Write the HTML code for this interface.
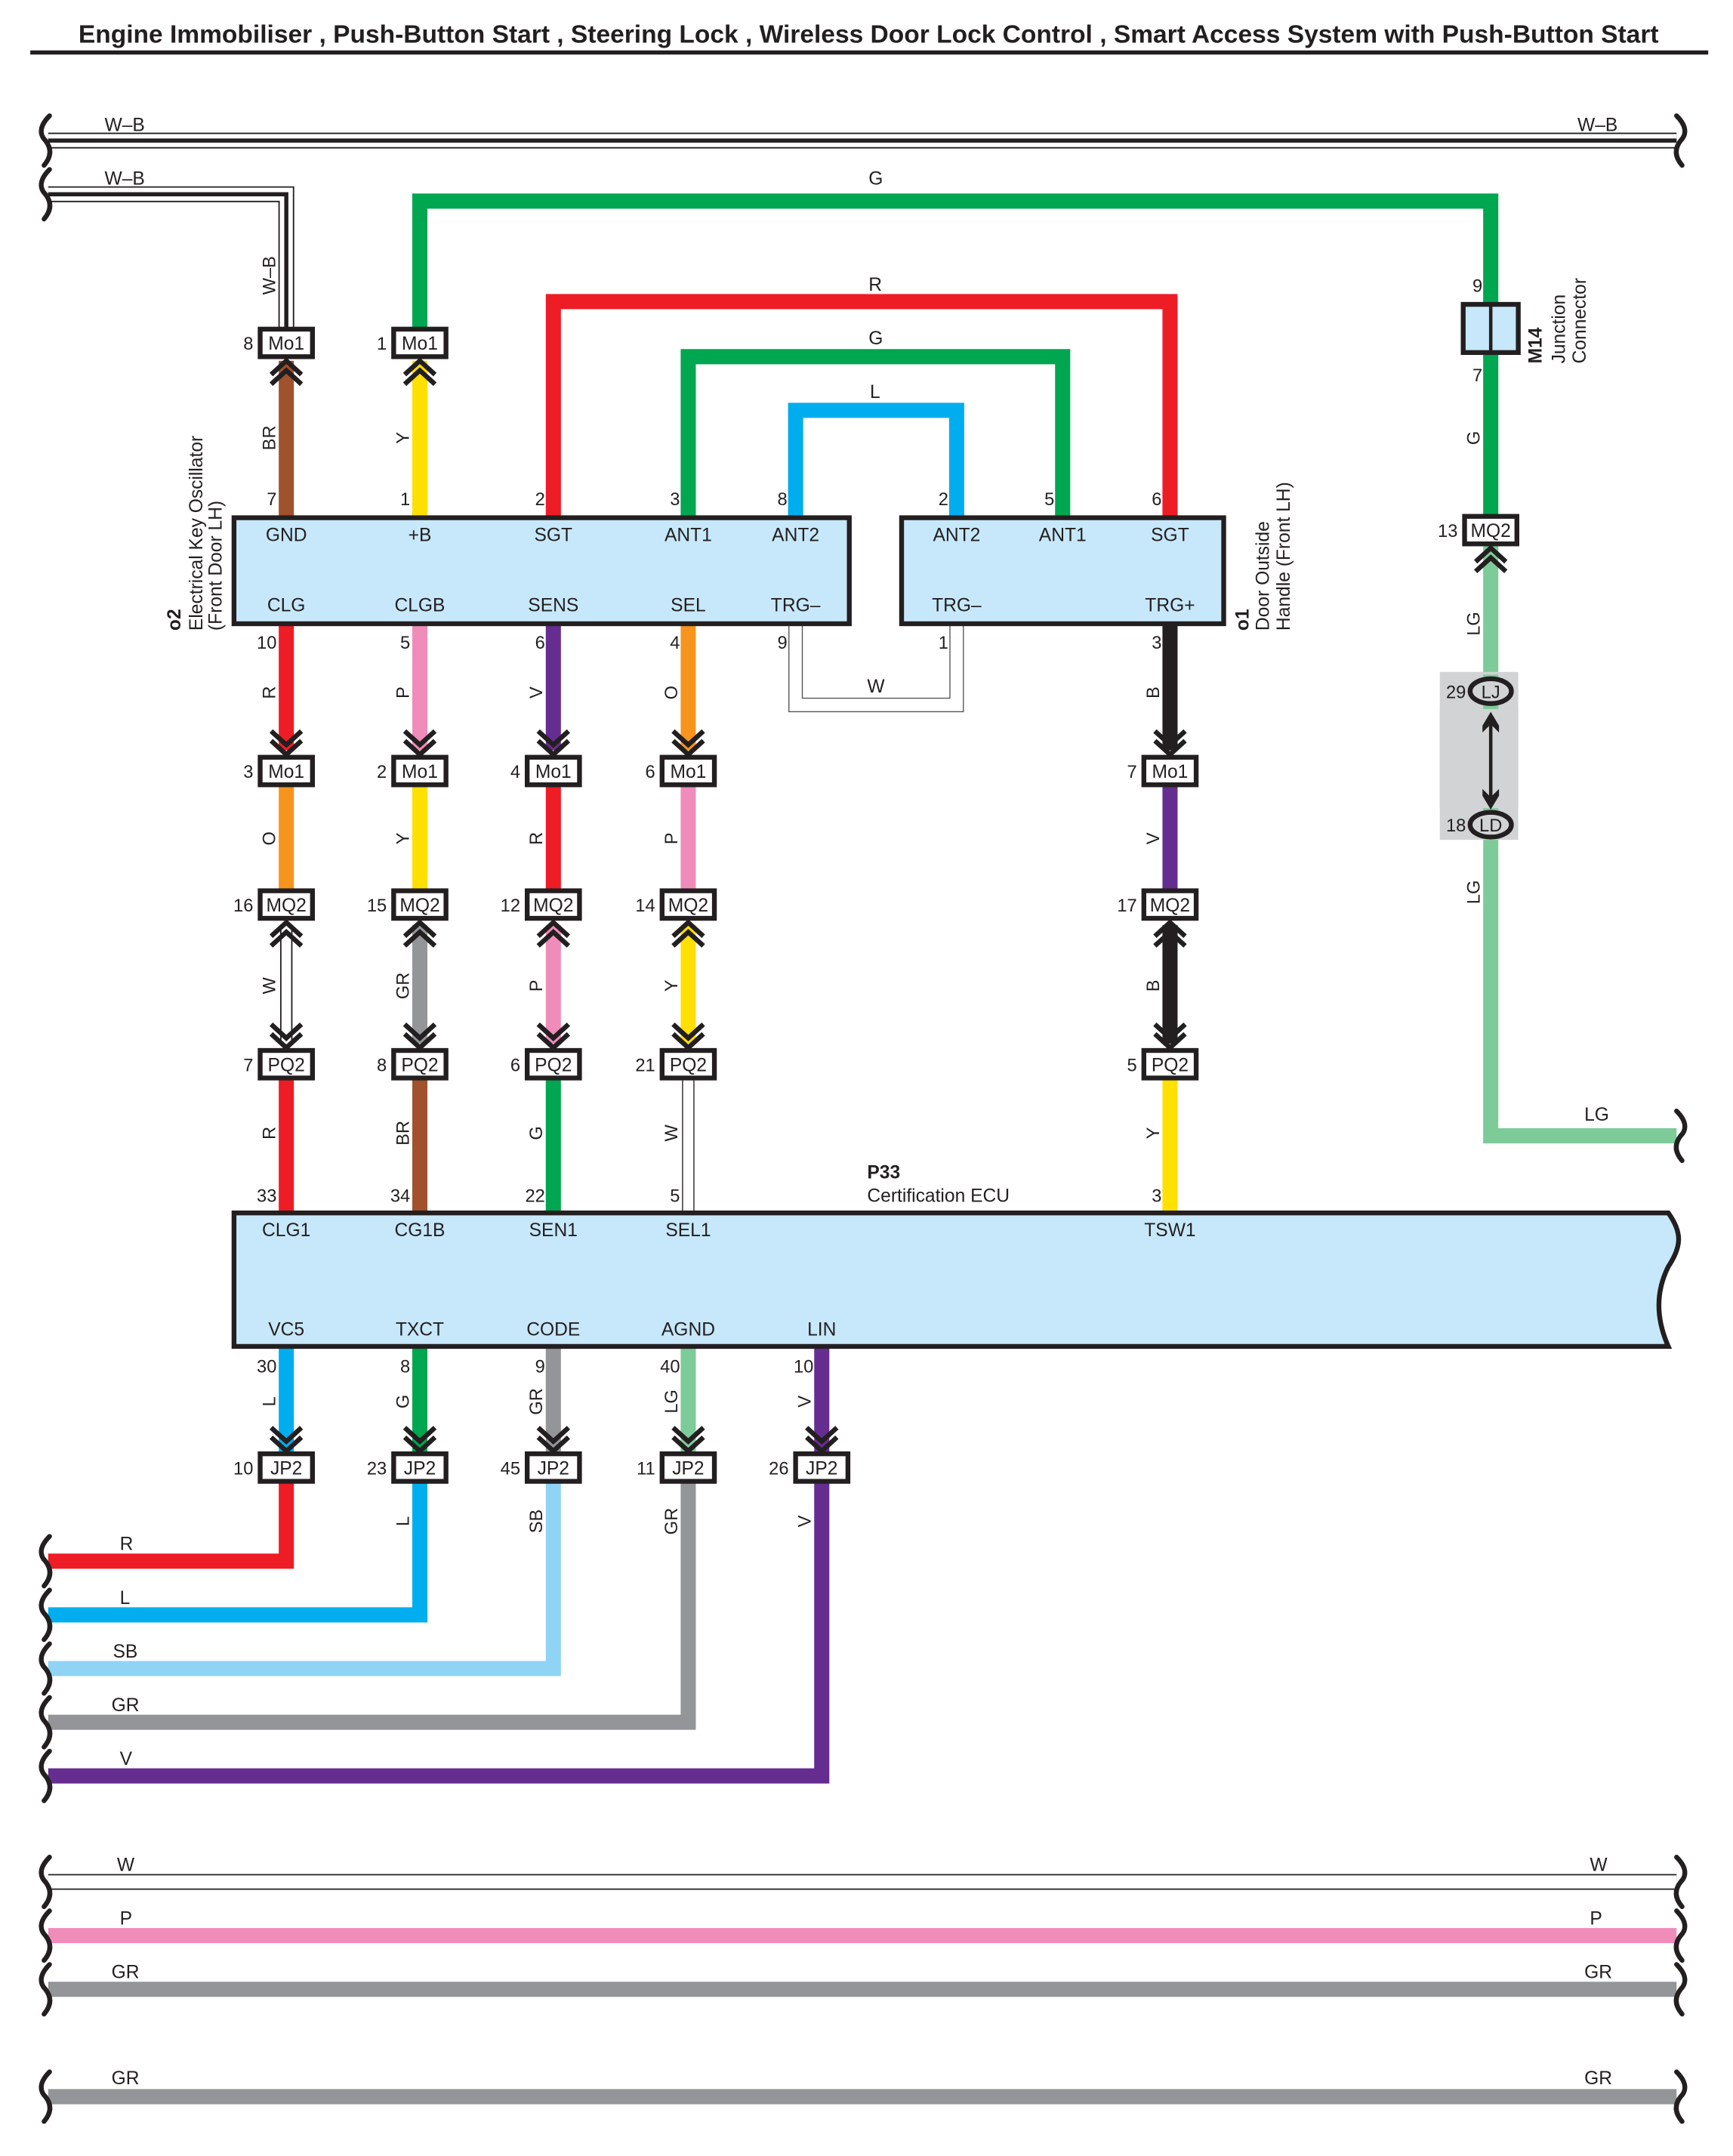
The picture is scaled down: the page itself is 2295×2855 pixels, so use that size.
<!DOCTYPE html>
<html><head><meta charset="utf-8"><style>
html,body{margin:0;padding:0;background:#fff}
svg{display:block}
text{font-family:"Liberation Sans",sans-serif;fill:#231f20}
</style></head><body>
<svg width="2295" height="2855" viewBox="0 0 1259 1566" xmlns="http://www.w3.org/2000/svg">
<defs>
<path id="cu" d="M-11,5 L0,-5 L11,5 M-11,12 L0,2 L11,12" fill="none" stroke="#231f20" stroke-width="3.5"/>
<path id="cd" d="M-11,-5 L0,5 L11,-5 M-11,-12 L0,-2 L11,-12" fill="none" stroke="#231f20" stroke-width="3.5"/>
<path id="br" d="M36,-18 C28,-10 29,-4 33,0 C37,5 38,11 32,18" fill="none" stroke="#231f20" stroke-width="3.5" stroke-linecap="round"/>
<path id="brr" d="M-36,-18 C-28,-10 -29,-4 -33,0 C-37,5 -38,11 -32,18" fill="none" stroke="#231f20" stroke-width="3.5" stroke-linecap="round"/>
</defs>

<text x="631" y="31" font-size="18.4" font-weight="bold" text-anchor="middle">Engine Immobiliser , Push-Button Start , Steering Lock , Wireless Door Lock Control , Smart Access System with Push-Button Start</text>
<line x1="22" y1="38" x2="1241" y2="38" stroke="#231f20" stroke-width="3"/>

<g fill="none" stroke-linejoin="miter">
<path d="M35,102 H1218" stroke="#231f20" stroke-width="11.5"/>
<path d="M35,102 H1218" stroke="#fff" stroke-width="9.5"/>
<path d="M35,102 H1218" stroke="#231f20" stroke-width="3"/>
<path d="M35,141 H208 V240" stroke="#231f20" stroke-width="11.5"/>
<path d="M35,141 H208 V240" stroke="#fff" stroke-width="9.5"/>
<path d="M35,141 H208 V240" stroke="#231f20" stroke-width="3"/>

<path d="M305,240 V146 H1083 V222" stroke="#00a650" stroke-width="11"/>
<path d="M1083,256 V376" stroke="#00a650" stroke-width="11"/>
<path d="M1083,396 V825 H1218" stroke="#7ecb9a" stroke-width="11"/>
<path d="M402,376 V219 H850 V376" stroke="#ee1c25" stroke-width="11"/>
<path d="M500,376 V259 H772 V376" stroke="#00a650" stroke-width="11"/>
<path d="M578,376 V298 H695 V376" stroke="#00aeef" stroke-width="11"/>

<path d="M208,262 V376" stroke="#a0522d" stroke-width="11"/>
<path d="M305,262 V376" stroke="#ffe000" stroke-width="11"/>

<path d="M208,453 V545" stroke="#ee1c25" stroke-width="11"/>
<path d="M305,453 V545" stroke="#f08cba" stroke-width="11"/>
<path d="M402,453 V545" stroke="#662d91" stroke-width="11"/>
<path d="M500,453 V545" stroke="#f7941d" stroke-width="11"/>
<path d="M850,453 V545" stroke="#231f20" stroke-width="11"/>

<path d="M208,570 V648" stroke="#f7941d" stroke-width="11"/>
<path d="M305,570 V648" stroke="#ffe000" stroke-width="11"/>
<path d="M402,570 V648" stroke="#ee1c25" stroke-width="11"/>
<path d="M500,570 V648" stroke="#f08cba" stroke-width="11"/>
<path d="M850,570 V648" stroke="#662d91" stroke-width="11"/>

<path d="M208,672 V758" stroke="#231f20" stroke-width="9"/>
<path d="M208,672 V758" stroke="#fff" stroke-width="7"/>
<path d="M305,672 V758" stroke="#939598" stroke-width="11"/>
<path d="M402,672 V758" stroke="#f08cba" stroke-width="11"/>
<path d="M500,672 V758" stroke="#ffe000" stroke-width="11"/>
<path d="M850,672 V758" stroke="#231f20" stroke-width="11"/>

<path d="M208,783 V881" stroke="#ee1c25" stroke-width="11"/>
<path d="M305,783 V881" stroke="#a0522d" stroke-width="11"/>
<path d="M402,783 V881" stroke="#00a650" stroke-width="11"/>
<path d="M500,783 V881" stroke="#231f20" stroke-width="9"/>
<path d="M500,783 V881" stroke="#fff" stroke-width="7.5"/>
<path d="M850,783 V881" stroke="#ffe000" stroke-width="11"/>

<path d="M578,453 V512 H695 V453" stroke="#555" stroke-width="10.5"/>
<path d="M578,452 V512 H695 V452" stroke="#fff" stroke-width="9"/>

<path d="M208,978 V1058" stroke="#00aeef" stroke-width="11"/>
<path d="M305,978 V1058" stroke="#00a650" stroke-width="11"/>
<path d="M402,978 V1058" stroke="#939598" stroke-width="11"/>
<path d="M500,978 V1058" stroke="#7ecb9a" stroke-width="11"/>
<path d="M597,978 V1058" stroke="#662d91" stroke-width="11"/>

<path d="M208,1075 V1134 H35" stroke="#ee1c25" stroke-width="11"/>
<path d="M305,1075 V1173 H35" stroke="#00aeef" stroke-width="11"/>
<path d="M402,1075 V1212 H35" stroke="#8fd4f5" stroke-width="11"/>
<path d="M500,1075 V1251 H35" stroke="#939598" stroke-width="11"/>
<path d="M597,1075 V1290 H35" stroke="#662d91" stroke-width="11"/>

<path d="M35,1367 H1218" stroke="#231f20" stroke-width="11.5"/>
<path d="M35,1367 H1218" stroke="#fff" stroke-width="9.5"/>
<path d="M35,1406 H1218" stroke="#f08cba" stroke-width="11"/>
<path d="M35,1445 H1218" stroke="#939598" stroke-width="11"/>
<path d="M35,1523 H1218" stroke="#939598" stroke-width="11"/>
</g>

<use href="#br" x="0" y="102"/><use href="#brr" x="1254" y="102"/>
<use href="#br" x="0" y="141"/>
<use href="#br" x="0" y="1134"/><use href="#br" x="0" y="1173"/><use href="#br" x="0" y="1212"/><use href="#br" x="0" y="1251"/><use href="#br" x="0" y="1290"/>
<use href="#br" x="0" y="1367"/><use href="#brr" x="1254" y="1367"/>
<use href="#br" x="0" y="1406"/><use href="#brr" x="1254" y="1406"/>
<use href="#br" x="0" y="1445"/><use href="#brr" x="1254" y="1445"/>
<use href="#br" x="0" y="1523"/><use href="#brr" x="1254" y="1523"/>
<use href="#brr" x="1254" y="825"/>

<g font-size="13.5">
<text x="76" y="95">W–B</text><text x="1146" y="95">W–B</text>
<text x="76" y="134">W–B</text>
<text x="631" y="134">G</text><text x="631" y="211">R</text><text x="631" y="250">G</text><text x="632" y="289">L</text>
<text x="630" y="503">W</text>
<text x="1151" y="814">LG</text>
<text x="87" y="1126">R</text><text x="87" y="1165">L</text><text x="82" y="1204">SB</text><text x="81" y="1243">GR</text><text x="87" y="1282">V</text>
<text x="85" y="1359">W</text><text x="1155" y="1359">W</text>
<text x="87" y="1398">P</text><text x="1155" y="1398">P</text>
<text x="81" y="1437">GR</text><text x="1151" y="1437">GR</text>
<text x="81" y="1514">GR</text><text x="1151" y="1514">GR</text>
</g>

<rect x="170" y="376" width="447" height="77" fill="#c7e8fa" stroke="#231f20" stroke-width="3.5"/>
<rect x="655" y="376" width="234" height="77" fill="#c7e8fa" stroke="#231f20" stroke-width="3.5"/>
<path d="M170,881 H1212 C1222,895 1222,905 1212,920 C1202,940 1204,960 1212,978 H170 Z" fill="#c7e8fa" stroke="#231f20" stroke-width="3.5"/>

<g font-size="13.5" text-anchor="middle">
<text x="208" y="393">GND</text><text x="305" y="393">+B</text><text x="402" y="393">SGT</text><text x="500" y="393">ANT1</text><text x="578" y="393">ANT2</text>
<text x="208" y="444">CLG</text><text x="305" y="444">CLGB</text><text x="402" y="444">SENS</text><text x="500" y="444">SEL</text><text x="578" y="444">TRG–</text>
<text x="695" y="393">ANT2</text><text x="772" y="393">ANT1</text><text x="850" y="393">SGT</text>
<text x="695" y="444">TRG–</text><text x="850" y="444">TRG+</text>
<text x="208" y="898">CLG1</text><text x="305" y="898">CG1B</text><text x="402" y="898">SEN1</text><text x="500" y="898">SEL1</text><text x="850" y="898">TSW1</text>
<text x="208" y="970">VC5</text><text x="305" y="970">TXCT</text><text x="402" y="970">CODE</text><text x="500" y="970">AGND</text><text x="597" y="970">LIN</text>
</g>

<g font-size="13" text-anchor="end">
<text x="201" y="367">7</text><text x="298" y="367">1</text><text x="396" y="367">2</text><text x="494" y="367">3</text><text x="572" y="367">8</text>
<text x="689" y="367">2</text><text x="766" y="367">5</text><text x="844" y="367">6</text>
<text x="201" y="471">10</text><text x="298" y="471">5</text><text x="396" y="471">6</text><text x="494" y="471">4</text><text x="572" y="471">9</text><text x="689" y="471">1</text><text x="844" y="471">3</text>
<text x="201" y="873">33</text><text x="298" y="873">34</text><text x="396" y="873">22</text><text x="494" y="873">5</text><text x="844" y="873">3</text>
<text x="201" y="997">30</text><text x="298" y="997">8</text><text x="396" y="997">9</text><text x="494" y="997">40</text><text x="591" y="997">10</text>
<text x="1077" y="212">9</text><text x="1077" y="277">7</text>
</g>

<g font-size="13.5" text-anchor="middle">
<g stroke="#231f20" stroke-width="3.5" fill="#fff">
<rect x="189" y="239" width="38" height="20"/><rect x="286" y="239" width="38" height="20"/>
<rect x="189" y="550" width="38" height="20"/><rect x="286" y="550" width="38" height="20"/><rect x="383" y="550" width="38" height="20"/><rect x="481" y="550" width="38" height="20"/><rect x="831" y="550" width="38" height="20"/>
<rect x="189" y="647" width="38" height="20"/><rect x="286" y="647" width="38" height="20"/><rect x="383" y="647" width="38" height="20"/><rect x="481" y="647" width="38" height="20"/><rect x="831" y="647" width="38" height="20"/>
<rect x="189" y="763" width="38" height="20"/><rect x="286" y="763" width="38" height="20"/><rect x="383" y="763" width="38" height="20"/><rect x="481" y="763" width="38" height="20"/><rect x="831" y="763" width="38" height="20"/>
<rect x="189" y="1056" width="38" height="20"/><rect x="286" y="1056" width="38" height="20"/><rect x="383" y="1056" width="38" height="20"/><rect x="481" y="1056" width="38" height="20"/><rect x="578" y="1056" width="38" height="20"/>
<rect x="1064" y="375" width="38" height="20"/>
</g>
<text x="208" y="254">Mo1</text><text x="305" y="254">Mo1</text>
<text x="208" y="565">Mo1</text><text x="305" y="565">Mo1</text><text x="402" y="565">Mo1</text><text x="500" y="565">Mo1</text><text x="850" y="565">Mo1</text>
<text x="208" y="662">MQ2</text><text x="305" y="662">MQ2</text><text x="402" y="662">MQ2</text><text x="500" y="662">MQ2</text><text x="850" y="662">MQ2</text>
<text x="208" y="778">PQ2</text><text x="305" y="778">PQ2</text><text x="402" y="778">PQ2</text><text x="500" y="778">PQ2</text><text x="850" y="778">PQ2</text>
<text x="208" y="1071">JP2</text><text x="305" y="1071">JP2</text><text x="402" y="1071">JP2</text><text x="500" y="1071">JP2</text><text x="597" y="1071">JP2</text>
<text x="1083" y="390">MQ2</text>
</g>
<g font-size="13" text-anchor="end">
<text x="184" y="254">8</text><text x="281" y="254">1</text>
<text x="184" y="565">3</text><text x="281" y="565">2</text><text x="378" y="565">4</text><text x="476" y="565">6</text><text x="826" y="565">7</text>
<text x="184" y="662">16</text><text x="281" y="662">15</text><text x="378" y="662">12</text><text x="476" y="662">14</text><text x="826" y="662">17</text>
<text x="184" y="778">7</text><text x="281" y="778">8</text><text x="378" y="778">6</text><text x="476" y="778">21</text><text x="826" y="778">5</text>
<text x="184" y="1071">10</text><text x="281" y="1071">23</text><text x="378" y="1071">45</text><text x="476" y="1071">11</text><text x="573" y="1071">26</text>
<text x="1059" y="390">13</text>
</g>

<use href="#cu" x="208" y="267"/><use href="#cu" x="305" y="267"/>
<use href="#cd" x="208" y="543"/><use href="#cd" x="305" y="543"/><use href="#cd" x="402" y="543"/><use href="#cd" x="500" y="543"/><use href="#cd" x="850" y="543"/>
<use href="#cu" x="208" y="675"/><use href="#cu" x="305" y="675"/><use href="#cu" x="402" y="675"/><use href="#cu" x="500" y="675"/><use href="#cu" x="850" y="675"/>
<use href="#cd" x="208" y="756"/><use href="#cd" x="305" y="756"/><use href="#cd" x="402" y="756"/><use href="#cd" x="500" y="756"/><use href="#cd" x="850" y="756"/>
<use href="#cd" x="208" y="1049"/><use href="#cd" x="305" y="1049"/><use href="#cd" x="402" y="1049"/><use href="#cd" x="500" y="1049"/><use href="#cd" x="597" y="1049"/>
<use href="#cu" x="1083" y="403"/>

<rect x="1063" y="221" width="40" height="35" fill="#c7e8fa" stroke="#231f20" stroke-width="3.5"/>
<line x1="1083" y1="221" x2="1083" y2="256" stroke="#231f20" stroke-width="2.5"/>

<rect x="1046" y="488" width="57" height="122" fill="#d1d3d4"/>
<path d="M1083,490 V605" stroke="#7ecb9a" stroke-width="11"/>
<rect x="1046" y="515" width="57" height="72" fill="#d1d3d4"/>
<line x1="1083" y1="522" x2="1083" y2="582" stroke="#231f20" stroke-width="2.5"/>
<path d="M1077,527 L1083,517 L1089,527 L1089,532 L1083,526 L1077,532 Z" fill="#231f20"/>
<path d="M1077,578 L1083,588 L1089,578 L1089,573 L1083,579 L1077,573 Z" fill="#231f20"/>
<ellipse cx="1083" cy="502" rx="15" ry="9" fill="#d1d3d4" stroke="#231f20" stroke-width="3.5"/>
<ellipse cx="1083" cy="599" rx="15" ry="9" fill="#d1d3d4" stroke="#231f20" stroke-width="3.5"/>
<g font-size="13" text-anchor="middle"><text x="1083" y="507">LJ</text><text x="1083" y="604">LD</text></g>
<g font-size="13" text-anchor="end"><text x="1065" y="507">29</text><text x="1065" y="604">18</text></g>

<g font-size="13" text-anchor="middle">
<text transform="translate(200,200) rotate(-90)">W–B</text>
<text transform="translate(200,318) rotate(-90)">BR</text>
<text transform="translate(297,318) rotate(-90)">Y</text>
<text transform="translate(200,503) rotate(-90)">R</text>
<text transform="translate(297,503) rotate(-90)">P</text>
<text transform="translate(394,503) rotate(-90)">V</text>
<text transform="translate(492,503) rotate(-90)">O</text>
<text transform="translate(842,503) rotate(-90)">B</text>
<text transform="translate(200,609) rotate(-90)">O</text>
<text transform="translate(297,609) rotate(-90)">Y</text>
<text transform="translate(394,609) rotate(-90)">R</text>
<text transform="translate(492,609) rotate(-90)">P</text>
<text transform="translate(842,609) rotate(-90)">V</text>
<text transform="translate(200,716) rotate(-90)">W</text>
<text transform="translate(297,716) rotate(-90)">GR</text>
<text transform="translate(394,716) rotate(-90)">P</text>
<text transform="translate(492,716) rotate(-90)">Y</text>
<text transform="translate(842,716) rotate(-90)">B</text>
<text transform="translate(200,823) rotate(-90)">R</text>
<text transform="translate(297,823) rotate(-90)">BR</text>
<text transform="translate(394,823) rotate(-90)">G</text>
<text transform="translate(492,823) rotate(-90)">W</text>
<text transform="translate(842,823) rotate(-90)">Y</text>
<text transform="translate(200,1018) rotate(-90)">L</text>
<text transform="translate(297,1018) rotate(-90)">G</text>
<text transform="translate(394,1018) rotate(-90)">GR</text>
<text transform="translate(492,1018) rotate(-90)">LG</text>
<text transform="translate(589,1018) rotate(-90)">V</text>
<text transform="translate(297,1105) rotate(-90)">L</text>
<text transform="translate(394,1105) rotate(-90)">SB</text>
<text transform="translate(492,1105) rotate(-90)">GR</text>
<text transform="translate(589,1105) rotate(-90)">V</text>
<text transform="translate(1075,318) rotate(-90)">G</text>
<text transform="translate(1075,453) rotate(-90)">LG</text>
<text transform="translate(1075,648) rotate(-90)">LG</text>
</g>

<g font-size="13.5">
<text transform="translate(131,458) rotate(-90)"><tspan font-weight="bold">o2</tspan></text>
<text transform="translate(147,458) rotate(-90)">Electrical Key Oscillator</text>
<text transform="translate(161,458) rotate(-90)">(Front Door LH)</text>
<text transform="translate(907,458) rotate(-90)"><tspan font-weight="bold">o1</tspan></text>
<text transform="translate(922,458) rotate(-90)">Door Outside</text>
<text transform="translate(937,458) rotate(-90)">Handle (Front LH)</text>
<text transform="translate(1120,264) rotate(-90)" font-weight="bold">M14</text>
<text transform="translate(1137,264) rotate(-90)">Junction</text>
<text transform="translate(1152,264) rotate(-90)">Connector</text>
<text x="630" y="856" font-weight="bold">P33</text>
<text x="630" y="873">Certification ECU</text>
</g>
</svg>
</body></html>
